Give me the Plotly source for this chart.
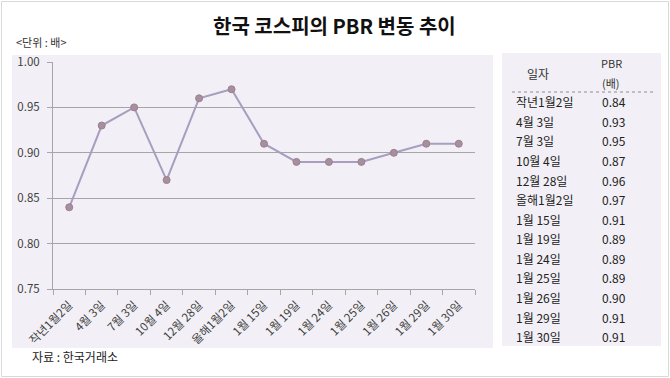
import plotly.graph_objects as go

dates = ["작년1월2일", "4월 3일", "7월 3일", "10월 4일", "12월 28일", "올해1월2일",
         "1월 15일", "1월 19일", "1월 24일", "1월 25일", "1월 26일", "1월 29일", "1월 30일"]
pbr = [0.84, 0.93, 0.95, 0.87, 0.96, 0.97, 0.91, 0.89, 0.89, 0.89, 0.90, 0.91, 0.91]
y_ticks = [0.75, 0.80, 0.85, 0.90, 0.95, 1.00]

W, H = 670, 378
FONT = "Noto Sans CJK KR, Noto Sans, sans-serif"

def px(x):
    return x / W

def py(y):
    return 1 - y / H

fig = go.Figure()
fig.add_trace(go.Scatter(
    x=dates, y=pbr, mode="lines+markers",
    line=dict(color="#A99DC0", width=2),
    marker=dict(size=7, color="#A88F9E", line=dict(color="#9A8190", width=1)),
    hoverinfo="x+y", showlegend=False,
))

shapes = [
    # outer frame
    dict(type="rect", xref="paper", yref="paper", x0=px(1.5), x1=px(668.5), y0=py(376.5), y1=py(1.5),
         line=dict(color="#D9D9D9", width=1), fillcolor="rgba(0,0,0,0)", layer="below"),
    # chart panel
    dict(type="rect", xref="paper", yref="paper", x0=px(12), x1=px(493), y0=py(348), y1=py(55),
         line=dict(width=0), fillcolor="#F2F0F6", layer="below"),
    # table panel
    dict(type="rect", xref="paper", yref="paper", x0=px(502), x1=px(661), y0=py(346), y1=py(53),
         line=dict(width=0), fillcolor="#F2F0F6", layer="below"),
    # dotted line under table header
    dict(type="line", xref="paper", yref="paper", x0=px(512), x1=px(654), y0=py(92), y1=py(92),
         line=dict(color="#8C8C8C", width=1, dash="dot")),
]

annotations = [
    dict(text="<b>한국 코스피의 PBR 변동 추이</b>", x=px(334), y=py(25), xref="paper", yref="paper",
         showarrow=False, font=dict(size=20, color="#111111", family=FONT), xanchor="center", yanchor="middle"),
    dict(text="<단위 : 배>", x=px(14), y=py(42), xref="paper", yref="paper",
         showarrow=False, font=dict(size=11, color="#333333", family=FONT), xanchor="left", yanchor="middle"),
    dict(text="자료 : 한국거래소", x=px(30), y=py(356), xref="paper", yref="paper",
         showarrow=False, font=dict(size=12, color="#222222", family=FONT), xanchor="left", yanchor="middle"),
    dict(text="일자", x=px(538), y=py(73), xref="paper", yref="paper",
         showarrow=False, font=dict(size=12, color="#333333", family=FONT), xanchor="center", yanchor="middle"),
    dict(text="PBR", x=px(611), y=py(63), xref="paper", yref="paper",
         showarrow=False, font=dict(size=11, color="#333333", family=FONT), xanchor="center", yanchor="middle"),
    dict(text="(배)", x=px(611), y=py(83), xref="paper", yref="paper",
         showarrow=False, font=dict(size=11, color="#333333", family=FONT), xanchor="center", yanchor="middle"),
]

row_y0, row_dy = 101.7, 19.58
for i, (d, v) in enumerate(zip(dates, pbr)):
    yy = row_y0 + i * row_dy
    annotations.append(dict(text=d, x=px(514), y=py(yy), xref="paper", yref="paper", showarrow=False,
                            font=dict(size=12, color="#222222", family=FONT), xanchor="left", yanchor="middle"))
    annotations.append(dict(text=f"{v:.2f}", x=px(600), y=py(yy), xref="paper", yref="paper", showarrow=False,
                            font=dict(size=12, color="#222222", family=FONT), xanchor="left", yanchor="middle"))

fig.update_layout(
    width=W, height=H,
    margin=dict(l=0, r=0, t=0, b=0, autoexpand=False),
    paper_bgcolor="white", plot_bgcolor="rgba(0,0,0,0)",
    shapes=shapes, annotations=annotations,
    xaxis=dict(domain=[px(53), px(475)], range=[-0.5, 12.5], type="category", automargin=False,
               tickson="boundaries", ticks="outside", ticklen=5, tickcolor="#A6A6A6",
               ticklabelstandoff=4,
               showline=True, linecolor="#A6A6A6", linewidth=1, showgrid=False,
               tickangle=-45, tickfont=dict(size=11.5, color="#404040", family=FONT), fixedrange=True),
    yaxis=dict(domain=[py(289), py(62)], range=[0.75, 1.00], tickvals=y_ticks, tickformat=".2f",
               automargin=False, ticklabelstandoff=5,
               ticks="outside", ticklen=5, tickcolor="#A6A6A6",
               showline=True, linecolor="#A6A6A6", linewidth=1,
               showgrid=True, gridcolor="#A6A6A6", gridwidth=1, zeroline=False,
               tickfont=dict(size=11.5, color="#404040", family=FONT), fixedrange=True),
)

fig.write_html("out.html", config={"displayModeBar": False},
               post_script="document.body.style.margin='0';document.body.style.padding='0';")
